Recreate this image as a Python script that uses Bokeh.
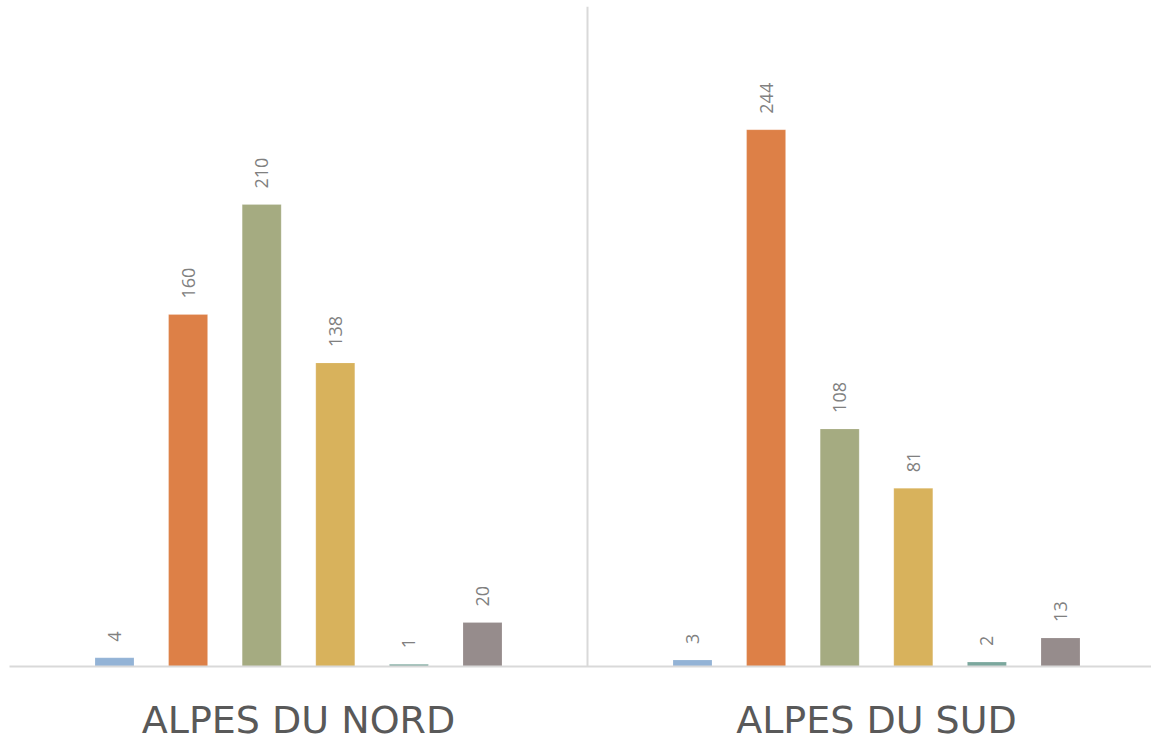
import numpy as np
from bokeh.plotting import figure
from bokeh.models import ColumnDataSource, FixedTicker, Range1d
from bokeh.core.properties import value
from bokeh.embed import file_html
from bokeh.resources import INLINE

# ---- data ----
regions = ["ALPES DU NORD", "ALPES DU SUD"]
series = ["Série 1", "Série 2", "Série 3", "Série 4", "Série 5", "Série 6"]
nord = [4, 160, 210, 138, 1, 20]
sud = [3, 244, 108, 81, 2, 13]
colors = ["#93b3d6", "#dd8047", "#a5ab81", "#d8b25c", "#7ba79d", "#968c8c"]

FONT = "Open Sans"
GROUP_PX = 578.0
FW, FH = 1142, 660

p = figure(frame_width=FW, frame_height=FH, output_backend="svg", toolbar_location=None,
           x_range=Range1d(0, FW / GROUP_PX), y_range=Range1d(0, FH / 2.2))
p.min_border_left = 9
p.min_border_right = 0
p.min_border_top = 6
p.min_border_bottom = 0
p.outline_line_color = None
p.background_fill_color = "white"
p.border_fill_color = "white"

spacing = 73.6 / GROUP_PX
bw = 39.0 / GROUP_PX
xs, tops, cols, labels = [], [], [], []
for g, vals in enumerate([nord, sud]):
    for k, v in enumerate(vals):
        xs.append(g + 0.5 + (k - 2.5) * spacing)
        tops.append(v)
        cols.append(colors[k])
        labels.append(str(v))

src = ColumnDataSource(dict(x=xs, top=tops, color=cols, label=labels))
p.vbar(x="x", top="top", bottom=0, width=bw, fill_color="color",
       line_color="white", line_alpha=0.35, line_width=0.5, source=src)
p.text(x="x", y="top", text="label", source=src, angle=np.pi / 2,
       text_align="left", text_baseline="middle", y_offset=-16,
       text_font=value(FONT), text_font_size="18px", text_color="#808080")

# axes
p.yaxis.visible = False
p.ygrid.visible = False
p.xgrid.ticker = FixedTicker(ticks=[0, 1, 2])
p.xgrid.grid_line_color = "#d9d9d9"
p.xgrid.grid_line_width = 2

ax = p.xaxis[0]
ax.ticker = FixedTicker(ticks=[0.5, 1.5])
ax.major_label_overrides = {i + 0.5: r for i, r in enumerate(regions)}
ax.axis_line_color = "#d9d9d9"
ax.axis_line_width = 2
ax.major_tick_line_color = None
ax.minor_tick_line_color = None
ax.major_label_text_font = "DejaVu Sans"
ax.major_label_text_font_size = "38px"
ax.major_label_text_color = "#595959"
ax.major_label_standoff = 25

open("out.html", "w").write(file_html(p, INLINE))
